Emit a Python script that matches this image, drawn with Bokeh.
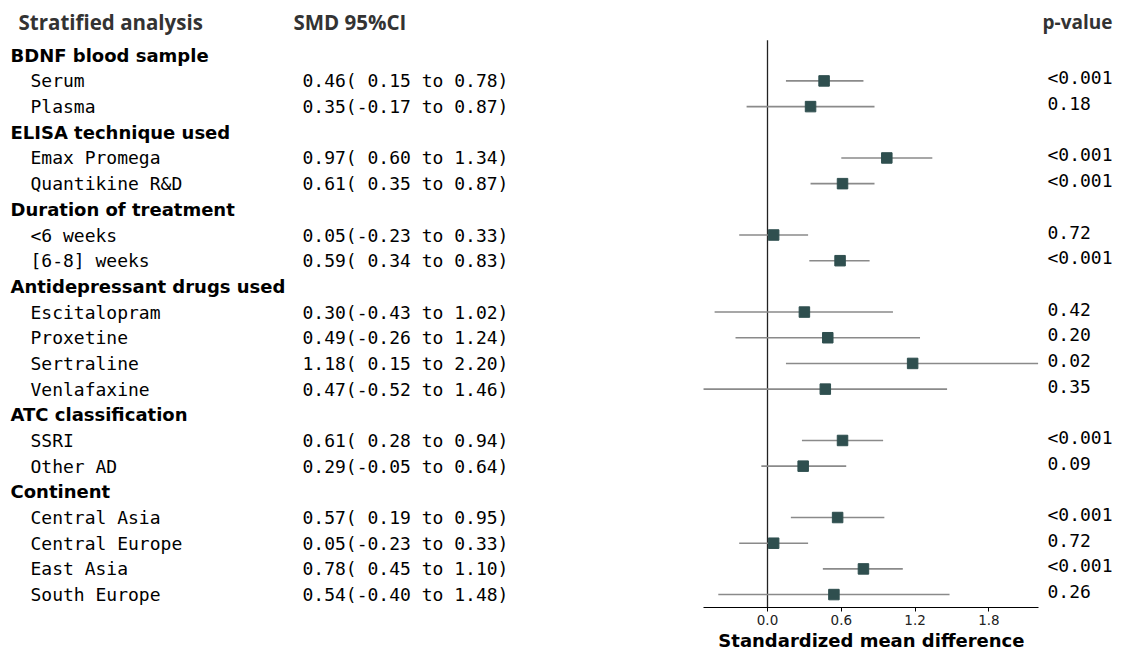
from bokeh.plotting import figure
from bokeh.models import Range1d, FixedTicker, ColumnDataSource, CustomJSTickFormatter, Title
from bokeh.core.properties import value
from bokeh.embed import file_html
from bokeh.resources import INLINE

# ---------------- data ----------------
groups = ["BDNF blood sample", "ELISA technique used", "Duration of treatment",
          "Antidepressant drugs used", "ATC classification", "Continent"]
group_items = [
    ["Serum", "Plasma"],
    ["Emax Promega", "Quantikine R&D"],
    ["<6 weeks", "[6-8] weeks"],
    ["Escitalopram", "Proxetine", "Sertraline", "Venlafaxine"],
    ["SSRI", "Other AD"],
    ["Central Asia", "Central Europe", "East Asia", "South Europe"],
]
smd = [0.46, 0.35, 0.97, 0.61, 0.05, 0.59, 0.30, 0.49, 1.18, 0.47, 0.61, 0.29, 0.57, 0.05, 0.78, 0.54]
ci_low = [0.15, -0.17, 0.60, 0.35, -0.23, 0.34, -0.43, -0.26, 0.15, -0.52, 0.28, -0.05, 0.19, -0.23, 0.45, -0.40]
ci_high = [0.78, 0.87, 1.34, 0.87, 0.33, 0.83, 1.02, 1.24, 2.20, 1.46, 0.94, 0.64, 0.95, 0.33, 1.10, 1.48]
p_values = ["<0.001", "0.18", "<0.001", "<0.001", "0.72", "<0.001", "0.42", "0.20", "0.02", "0.35",
            "<0.001", "0.09", "<0.001", "0.72", "<0.001", "0.26"]
x_ticks = [0.0, 0.6, 1.2, 1.8]
x_bounds = (-0.52, 2.20)
x_label = "Standardized mean difference"
headers = ["Stratified analysis", "SMD 95%CI"]
p_header = "p-value"

# ---------------- layout helpers ----------------
W, H = 1113, 650
PX_PER_UNIT = 123.0
ZERO_X = 767.0
ROW0_Y = 55.0
ROW_STEP = 25.81
AXIS_Y = 610
LABEL_W = 305  # approx. rendered width of the axis title


def dx(px):
    return (px - ZERO_X) / PX_PER_UNIT


def dy(py):
    return -(py - ROW0_Y) / ROW_STEP


# rows
g_rows, item_rows, item_names = [], [], []
r = 0
for g, items in zip(groups, group_items):
    g_rows.append(-r)
    r += 1
    for it in items:
        item_rows.append(-r)
        item_names.append(it)
        r += 1

ci_text = [f"{e:.2f}({lo:5.2f} to {hi:.2f})" for e, lo, hi in zip(smd, ci_low, ci_high)]

p = figure(width=W, height=H, output_backend="svg", toolbar_location=None,
           x_range=Range1d(dx(0), dx(W)),
           y_range=Range1d(dy(AXIS_Y), dy(0)),
           min_border_left=0, min_border_right=0, min_border_top=0,
           min_border_bottom=H - AXIS_Y)
p.outline_line_color = None
p.grid.visible = False
p.yaxis.visible = False
p.background_fill_color = "white"
p.border_fill_color = "white"

ax = p.xaxis[0]
ax.bounds = x_bounds
ax.ticker = FixedTicker(ticks=x_ticks)
ax.formatter = CustomJSTickFormatter(code="return tick.toFixed(1);")
ax.major_tick_out = 4
ax.major_tick_in = 0
ax.minor_tick_out = 0
ax.minor_tick_in = 0
ax.axis_line_color = "black"
ax.axis_line_width = 1.1
ax.major_tick_line_color = "black"
ax.major_label_text_font = "DejaVu Sans"
ax.major_label_text_font_size = "13.5px"
ax.major_label_text_color = "#222222"
ax.major_label_standoff = 3

# axis title centred under the bounded axis (a Title placed below the axis)
centre_px = ZERO_X + PX_PER_UNIT * (x_bounds[0] + x_bounds[1]) / 2
p.add_layout(Title(text=x_label, align="left", offset=centre_px - LABEL_W / 2, standoff=0,
                   text_font="DejaVu Sans", text_font_style="bold", text_font_size="18px",
                   text_color="black"), "below")

# zero line
p.segment(x0=[0], y0=[dy(40)], x1=[0], y1=[dy(AXIS_Y)], line_color="#222222", line_width=1.3)

src = ColumnDataSource(dict(y=item_rows, name=item_names, est=smd, lo=ci_low, hi=ci_high,
                            ci=ci_text, pv=p_values))
p.segment(x0="lo", y0="y", x1="hi", y1="y", source=src, line_color="#8a8a8a", line_width=1.6)
p.scatter(x="est", y="y", source=src, marker="square", size=10.5, fill_color="#2f4f4f",
          line_color="#2f4f4f")

# headers
p.text(x=[dx(18), dx(293)], y=[dy(22)] * 2, text=headers, text_font=value("Open Sans"),
       text_font_style="bold", text_font_size="20.5px", text_color="#333333",
       text_baseline="middle", text_align="left")
p.text(x=[dx(1112)], y=[dy(22)], text=[p_header], text_font=value("Open Sans"),
       text_font_style="bold", text_font_size="19px", text_color="#333333",
       text_baseline="middle", text_align="right")

# group labels
p.text(x=[dx(10)] * len(groups), y=g_rows, text=groups, text_font=value("DejaVu Sans"),
       text_font_style="bold", text_font_size="18px", text_color="black",
       text_baseline="middle", text_align="left")

# item labels, CI, p-values
mono = dict(text_font=value("DejaVu Sans Mono"), text_font_size="18px", text_color="black",
            text_baseline="middle", text_align="left")
p.text(x=dx(30), y="y", text="name", source=src, **mono)
p.text(x=dx(302), y="y", text="ci", source=src, **mono)
p.text(x=dx(1047), y="y", text="pv", source=src, y_offset=-3, **mono)

open("out.html", "w").write(file_html(p, INLINE))
